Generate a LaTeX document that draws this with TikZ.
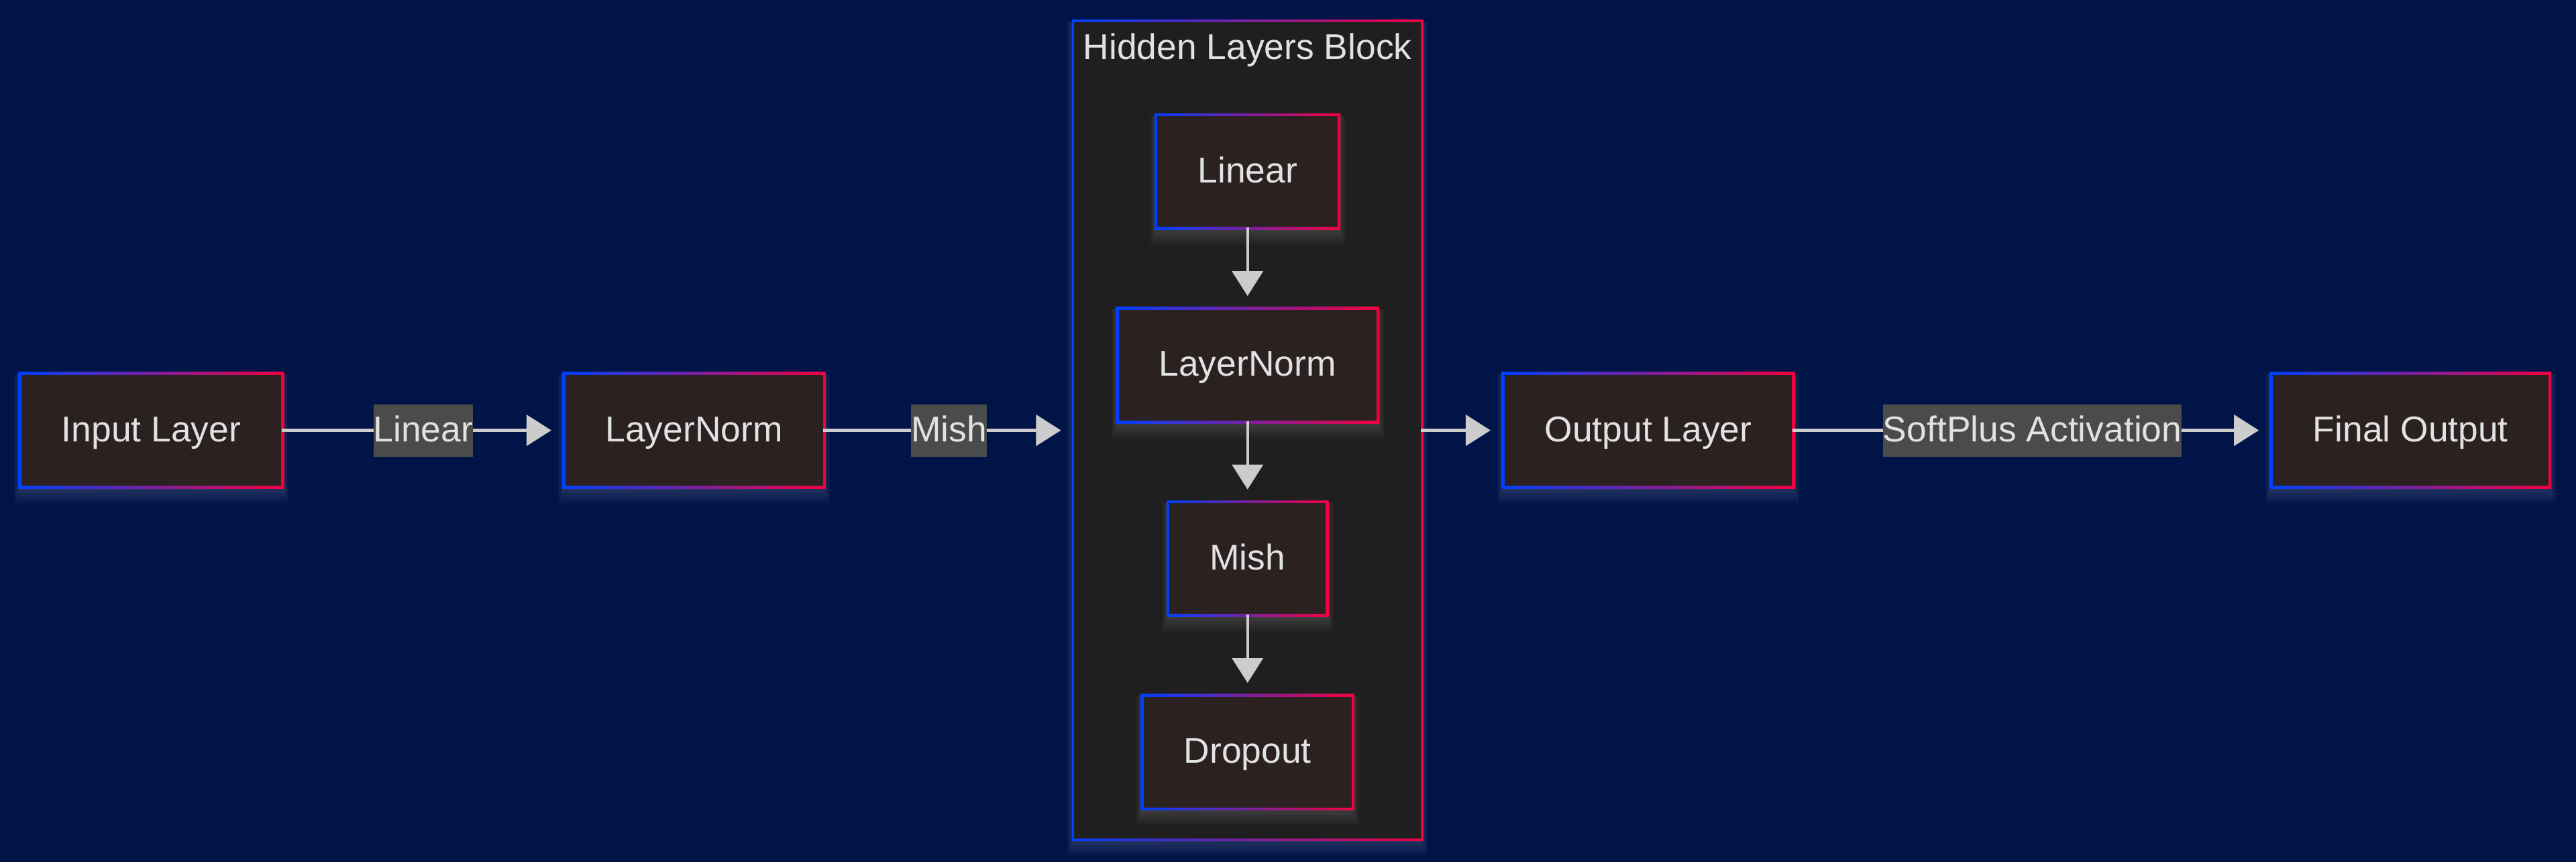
\documentclass[tikz,border=0pt]{standalone}
\usepackage{fontspec}
\setmainfont{Liberation Sans}
\usetikzlibrary{arrows.meta, positioning, calc, backgrounds}
\definecolor{pagebg}{RGB}{0, 20, 72}
\definecolor{boxfill}{RGB}{43, 33, 33}
\definecolor{clusterfill}{RGB}{31, 31, 31}
\definecolor{labelfill}{RGB}{74, 76, 74}
\definecolor{inkgray}{RGB}{226, 226, 226}
\definecolor{wiregray}{RGB}{204, 204, 204}
\definecolor{edgeblue}{RGB}{0, 64, 255}
\definecolor{edgered}{RGB}{245, 0, 64}

% soft glow plus blue-to-red border behind a node
\newcommand{\glowframe}[1]{%
  \foreach \k in {1,...,5}{%
    \fill[white, opacity=0.03] ($(#1.south west)+(-0.02*\k,-0.05*\k)$) rectangle ($(#1.north east)+(0.02*\k,0)$);}
  \shade[left color=edgeblue, right color=edgered] ($(#1.south west)+(-0.035,-0.035)$) rectangle ($(#1.north east)+(0.035,0.035)$);}

\begin{document}
\begin{tikzpicture}[
        font=\fontsize{15.2}{18}\selectfont,
        node distance=1.22cm and 4.22cm,
        layerbox/.style={rectangle, fill=boxfill, text=inkgray,
                         minimum height=1.65cm, inner xsep=0.6cm,
                         text height=0.43cm, text depth=0.10cm},
        hiddenbox/.style={rectangle, minimum width=5.15cm, minimum height=12.16cm},
        edgetag/.style={fill=labelfill, text=inkgray, inner sep=0pt, minimum height=0.78cm,
                        text height=0.43cm, text depth=0.10cm},
        wire/.style={-{Triangle[length=3.7mm, width=4.6mm]}, draw=wiregray, fill=wiregray,
                     line width=1.15pt, shorten >=2mm},
    ]
        \useasboundingbox (0,0) rectangle (38.40,-12.85);

        % Main row
        \node[layerbox] (inp) at (2.255,-6.415) {Input Layer};
        \node[layerbox, right=4.22cm of inp] (lnorm) {LayerNorm};
        \node[hiddenbox, right=3.74cm of lnorm] (hidden) {};
        \node[layerbox, right=1.24cm of hidden] (outl) {Output Layer};
        \node[layerbox, right=7.15cm of outl] (final) {Final Output};

        % Hidden block
        \node[text=inkgray, anchor=base] (title) at ($(hidden.north)+(0,-0.56)$) {Hidden Layers Block};
        \node[layerbox, below=1.40cm of hidden.north] (hlin) {Linear};
        \node[layerbox, below=of hlin] (hnorm) {LayerNorm};
        \node[layerbox, below=of hnorm] (hmish) {Mish};
        \node[layerbox, below=of hmish] (hdrop) {Dropout};

        \draw[wire] (inp) -- node[edgetag] {Linear} (lnorm);
        \draw[wire] (lnorm) -- node[edgetag] {Mish} (hidden);
        \draw[wire] (hidden) -- (outl);
        \draw[wire] (outl) -- node[edgetag] {SoftPlus Activation} (final);

        \draw[wire] (hlin) -- (hnorm);
        \draw[wire] (hnorm) -- (hmish);
        \draw[wire] (hmish) -- (hdrop);

        % Frames and page colour
        \begin{scope}[on background layer]
            \fill[pagebg] (0,0) rectangle (38.40,-12.85);
            \glowframe{hidden}
            \fill[clusterfill] (hidden.south west) rectangle (hidden.north east);
            \foreach \n in {inp,lnorm,outl,final,hlin,hnorm,hmish,hdrop}{\glowframe{\n}}
        \end{scope}

    \end{tikzpicture}
\end{document}
